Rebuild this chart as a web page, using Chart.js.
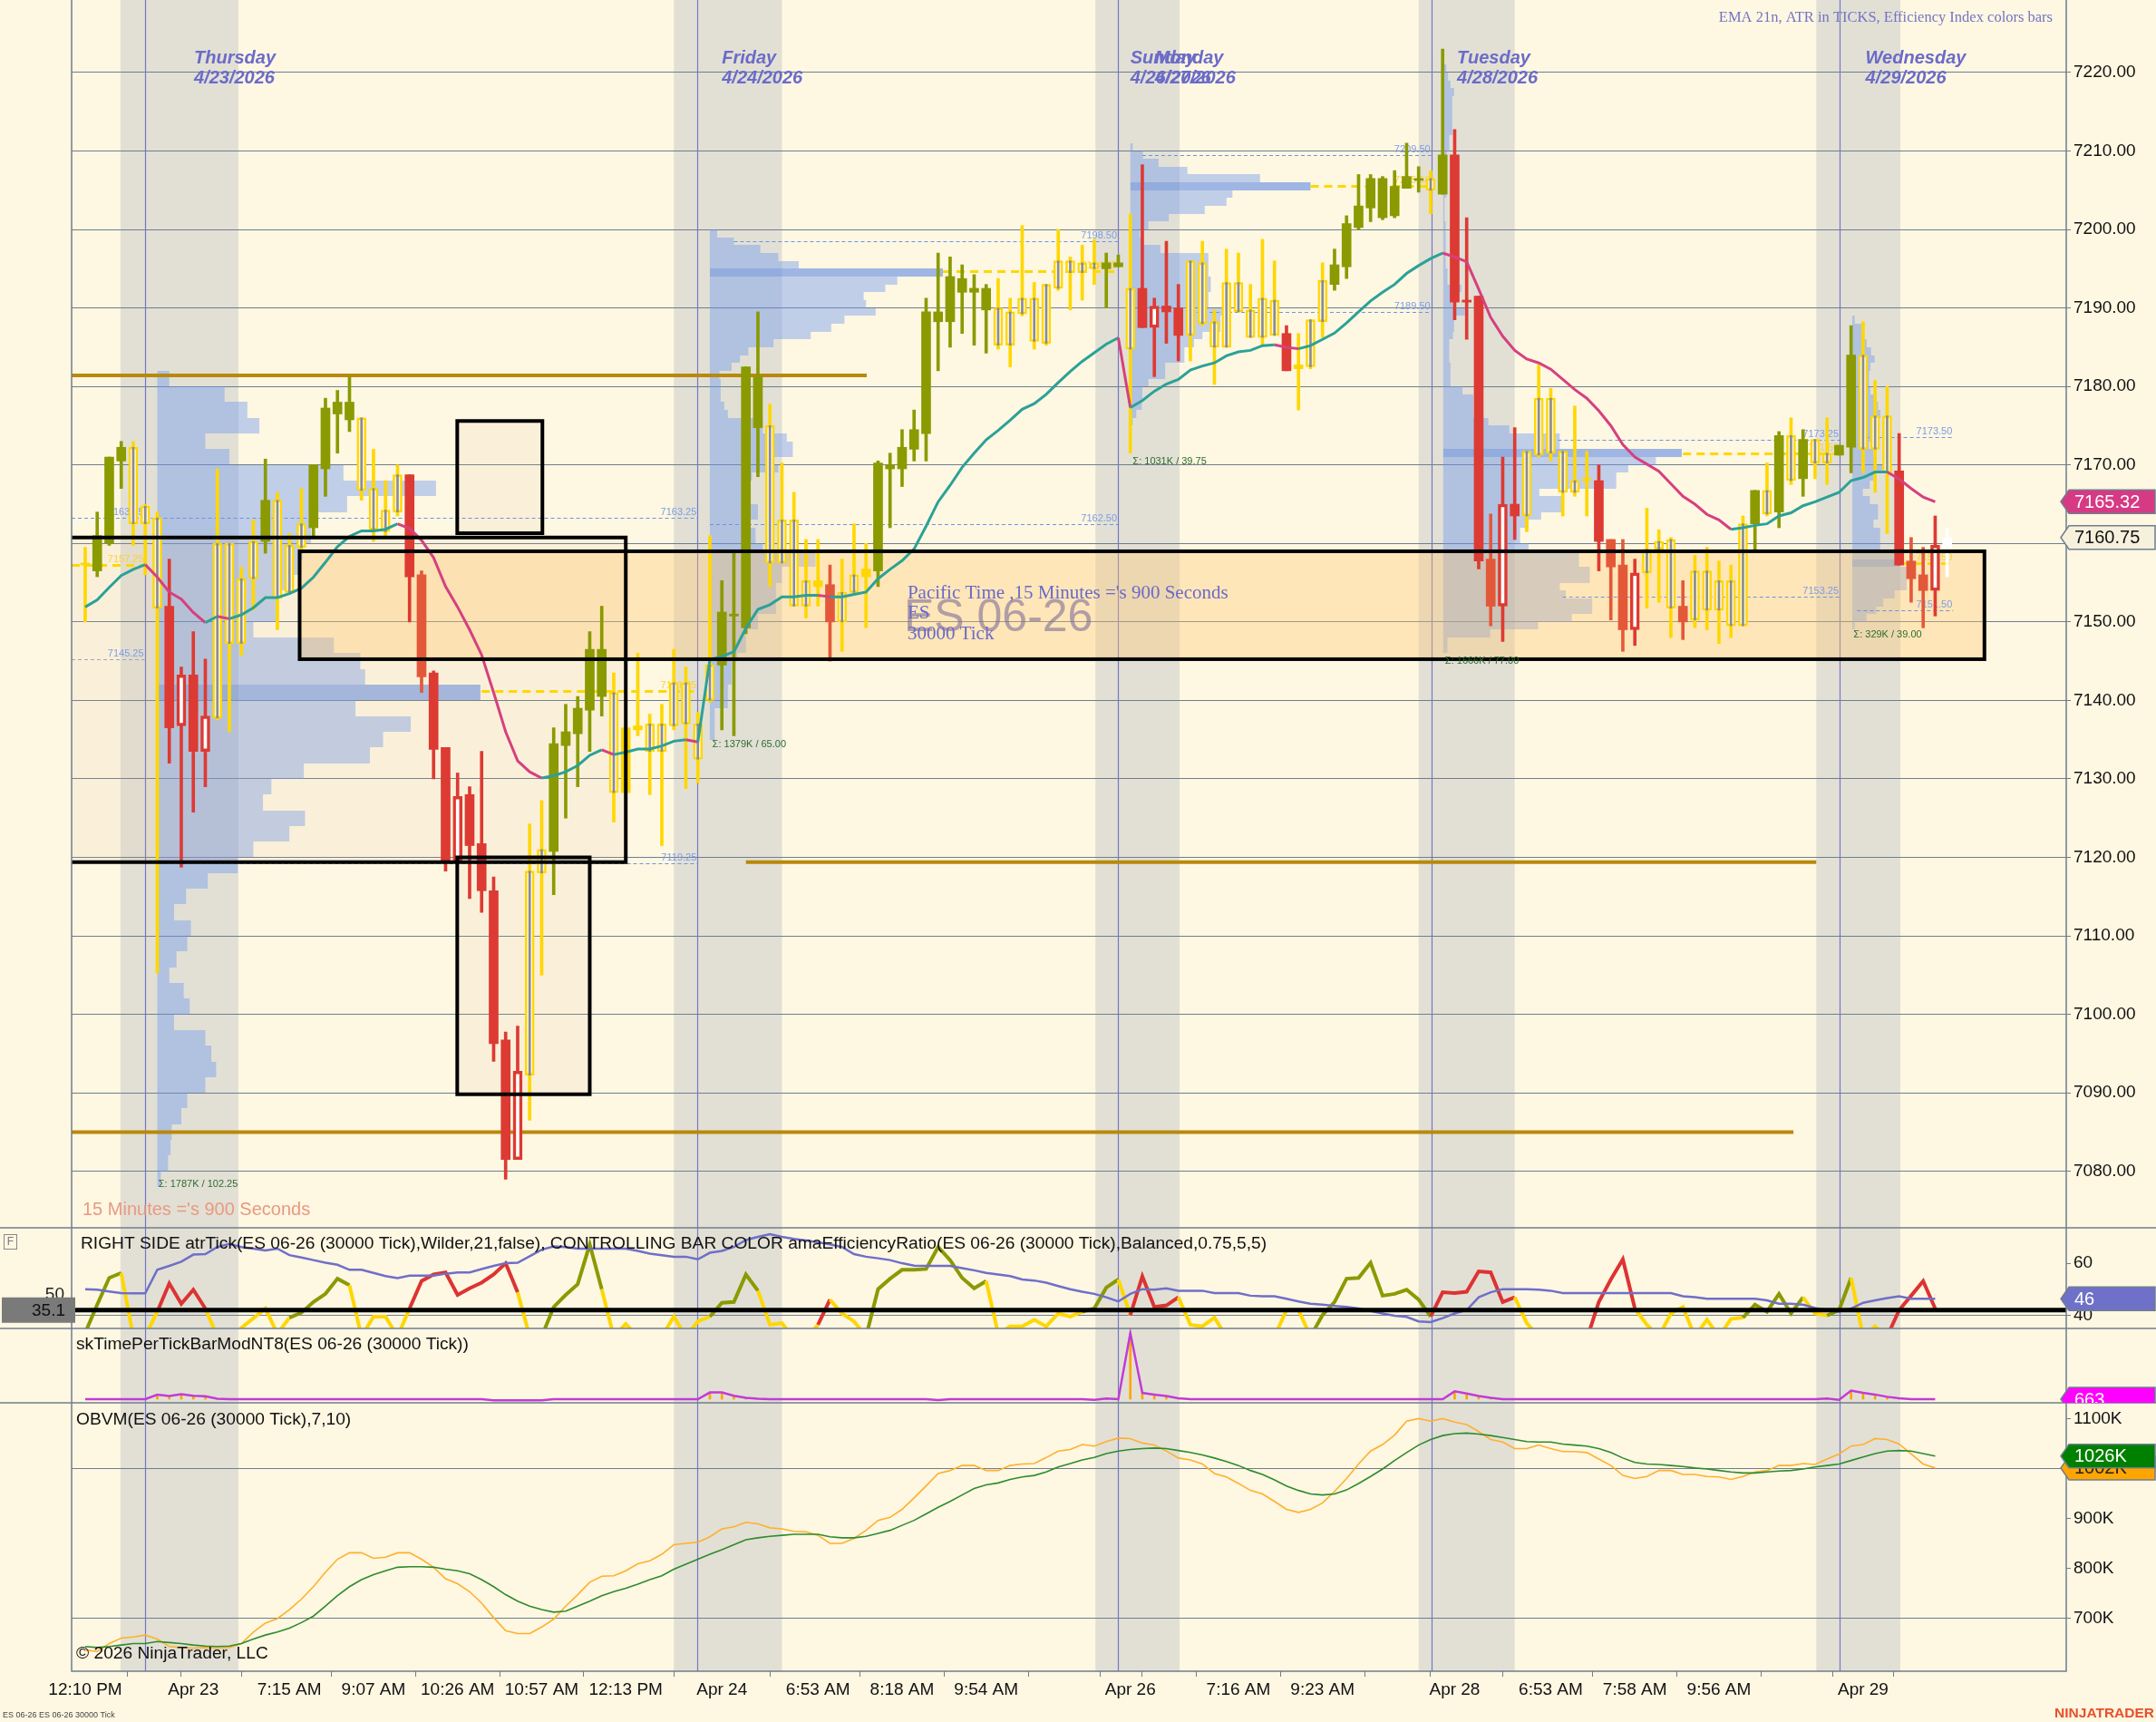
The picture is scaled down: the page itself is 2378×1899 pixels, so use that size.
<!DOCTYPE html>
<html>
<head>
<meta charset="utf-8">
<title>ES 06-26 30000 Tick</title>
<script src="https://cdn.jsdelivr.net/npm/chart.js@4.4.1/dist/chart.umd.min.js"></script>
<style>
  html, body { margin: 0; padding: 0; background: #FEF7E2; }
  canvas { display: block; }
</style>
</head>
<body>
<canvas id="chart" width="2378" height="1899"></canvas>
<script>
// ---- price bars (30000 tick) ----
const opens = [
  7157.25,7156.5,7160,7170.5,7172.25,7162.5,7163.25,7152,7136.75,7143.25,
  7133.5,7137.75,7160,7147.25,7155.5,7160.25,7165.5,7153.75,7159.5,7162,
  7169.5,7176.5,7178,7176,7167,7161.5,7164,7168.75,7156,7143.5,
  7134,7119.5,7128,7121.75,7115.75,7096.75,7081.5,7092.25,7118,7120.75,
  7134.25,7135.75,7138.75,7146.5,7141,7128.25,7136.75,7137,7133.5,7136.75,
  7142.25,7137,7140,7144.5,7151,7149.25,7181.25,7175,7157.5,7163,
  7152,7155.25,7154.75,7150,7153.75,7156.75,7156.5,7169.5,7169.5,7172,
  7174,7189.5,7188.25,7193.75,7192.5,7192.5,7190,7185.25,7189.25,7191.25,
  7185.5,7192.5,7196,7194.5,7195.75,7195,7195.25,7192.5,7187.5,7187.5,
  7190.25,7190,7186.5,7195.75,7188.25,7185,7193.25,7189.75,7186.25,7191,
  7186.75,7182.75,7182.5,7188.25,7193,7195.25,7200.25,7202.75,7206.5,7201.75,
  7205.25,7206.5,7206.5,7204.5,7209.5,7191,7191.5,7158,7152,7165,
  7163.5,7171.25,7178.5,7171.75,7166.5,7168,7168,7160.5,7157.25,7149,
  7156.25,7159.25,7160.5,7152,7150.25,7156.5,7151.5,7155.25,7149.5,7162.5,
  7166.75,7164,7173.75,7168.25,7173.25,7170.25,7171.25,7172.25,7184,7172,
  7176.25,7169.25,7157.75,7156,7154,7159.5
];
const highs = [
  7159.5,7164,7171,7173,7173,7165,7164,7158,7144.25,7148.75,
  7145.25,7169.5,7160,7157,7163,7170.75,7166.5,7161.25,7167,7170,
  7178.5,7179.5,7181.25,7176,7172,7168,7170,7168.75,7156.5,7143.75,
  7134,7130.75,7129,7133.5,7117.5,7097.75,7098.5,7124.25,7127.25,7136.5,
  7139.5,7140.5,7148.75,7152,7143.5,7136.5,7146,7138.25,7139.5,7146.5,
  7144.25,7138.5,7161,7155.25,7158.75,7182.5,7189.5,7177.75,7170.25,7166.5,
  7160.5,7160.5,7157.25,7158,7162.5,7160,7170.5,7171.5,7174.5,7177,
  7191.25,7197,7196.5,7195.5,7194.25,7193,7193.75,7191.25,7200.5,7193.25,
  7193,7200,7196.5,7198,7198.75,7197,7196.75,7202,7208.25,7191.25,
  7198.5,7193,7196,7198.5,7189.75,7197.5,7197,7193,7198.75,7196,
  7187.75,7186.75,7188.5,7195.75,7197.5,7201.75,7207,7207,7206.75,7207.5,
  7211,7208,7207.5,7223,7212.75,7201.5,7191.5,7163.75,7171,7174.75,
  7171.75,7182.75,7179.75,7171.75,7177.5,7171.75,7170,7160.5,7160.5,7158,
  7164.5,7161.75,7160.75,7155.25,7158.5,7159.5,7157.75,7157.25,7163.5,7166.75,
  7170.25,7174.25,7176,7174.5,7173.25,7176,7172.5,7187.75,7188.25,7180.75,
  7180,7174,7160.75,7159.5,7163.5,7162
];
const lows = [
  7150,7155.75,7159.75,7167,7159.75,7156,7105.25,7132,7118.75,7125.75,
  7129,7137.5,7136,7145.75,7151.5,7158.75,7149,7153.5,7159.25,7160.75,
  7166,7171.5,7174.25,7165.5,7160.25,7161,7163.5,7150,7141,7130,
  7118.25,7119.5,7114.75,7113,7094,7079,7081.5,7086.5,7105,7115.25,
  7125,7129,7133.5,7138,7124.5,7128.25,7135.5,7128,7121.5,7136.25,
  7128.75,7129.5,7139.75,7136.25,7135.5,7148.5,7168.5,7154.5,7157.5,7152,
  7150.5,7152,7145,7146.25,7153.5,7149.25,7154.5,7162,7167.25,7170.5,
  7170.5,7182,7185,7186.75,7185.25,7184.25,7184.75,7182.5,7189,7184.75,
  7185.25,7192.25,7189.75,7191,7193,7190,7195.25,7171.5,7187.5,7181.25,
  7185.5,7183.25,7183.25,7187.75,7180.25,7185,7189.5,7186.25,7185.25,7186.5,
  7182,7177,7182.25,7186.25,7192.25,7193.75,7200,7201,7201.25,7201.5,
  7205.25,7204.75,7202,7204.5,7188.5,7186,7156.75,7149.5,7147.5,7160.5,
  7161.5,7171,7170.5,7163.5,7166,7163.5,7156.5,7150.25,7146.25,7147,
  7151.75,7152.5,7148,7147.75,7149.25,7149,7147.25,7148,7149.5,7159.25,
  7163.5,7162,7167.5,7166,7168.25,7167.5,7171.25,7169,7169,7166.5,
  7161.25,7157.25,7152.5,7149.25,7150.75,7155.75
];
const closes = [
  7157.5,7161,7171,7172.25,7162.5,7164.75,7151.75,7136.5,7143.25,7133.5,
  7138,7160,7147.25,7155.5,7160.25,7165.5,7153,7159.75,7162.5,7170,
  7177.25,7178,7175.75,7166.75,7161.75,7164.25,7168.75,7155.75,7143,7133.75,
  7119.5,7127.75,7121.5,7115.75,7096.25,7081.5,7092.75,7118.25,7121,7134.5,
  7136,7139,7146.5,7140.5,7128.25,7136.5,7136.25,7133.5,7137,7142.25,
  7137,7132.5,7144.5,7151.25,7150.75,7182.5,7174.75,7157.5,7163,7152,
  7155.25,7154.5,7150,7153.75,7156,7155.75,7170.25,7170,7172.25,7174.5,
  7189.5,7188.25,7194,7192,7192,7189.75,7185.25,7189.5,7191.25,7185.75,
  7193,7196,7194.5,7195.75,7195,7195.75,7195.75,7184.75,7192.5,7190.25,
  7189.5,7186.5,7196,7188,7185,7193.25,7189.5,7186.25,7191.25,7186.5,
  7182,7182.25,7188.5,7193.5,7195.5,7200.75,7203,7206.5,7201.5,7205.5,
  7206.75,7206.25,7205,7209.5,7190.75,7190.75,7157.75,7152,7165,7163.5,
  7171.75,7178.5,7171.5,7166.5,7168,7168,7160.25,7157,7149,7156.25,
  7159.25,7160.25,7151.75,7150,7156.5,7151.5,7155.25,7149.5,7162.5,7166.75,
  7163.75,7173.75,7168,7173.25,7170.25,7171.5,7172.5,7184,7172,7176.25,
  7169,7157.25,7155.5,7154,7159.75,7160.75
];
// efficiency colour of each bar: G olive, Y gold, R red, O orange-red, W live bar; lower case = hollow body
const barColors =
  'YGGGyyyRrR' + 'ryyyyGyyyG' + 'GGGyyyyROR' + 'RrRRRRryyG' + 'GGGGyYYyyy' +
  'yyyGGGGyyy' + 'yYOyyYGGGG' + 'GGGGGGyyyy' + 'yyyyyGGyRr' + 'RRyyyyyyyy' +
  'RYyyGGGGGG' + 'GGyGRRROrR' + 'yyyyyYROOr' + 'yyyOyyyyyG' + 'yGyGyyGGyy' + 'yROOrW';

const ema21 = [
  7151.9,7152.8,7154.4,7155.9,7156.7,7157.3,7155.7,7153.8,7152.9,7151.2,
  7149.9,7150.7,7150.4,7150.9,7151.8,7153.1,7153.1,7153.6,7154.3,7155.7,
  7157.6,7159.6,7160.9,7161.6,7161.6,7161.8,7162.5,7161.9,7160.4,7158.2,
  7154.5,7151.9,7149.0,7145.8,7141.0,7136.0,7132.3,7130.9,7130.1,7130.4,
  7130.9,7131.7,7133.0,7133.7,7133.1,7133.4,7133.8,7133.8,7134.2,7134.8,
  7135.0,7134.7,7145.2,7145.6,7146.2,7149.2,7151.6,7152.2,7153.2,7153.2,
  7153.4,7153.4,7153.2,7153.2,7153.5,7153.8,7155.5,7156.7,7157.8,7159.3,
  7162.2,7165.3,7167.4,7169.7,7171.5,7173.2,7174.4,7175.7,7177.1,7177.8,
  7179.0,7180.5,7181.9,7183.2,7184.3,7185.4,7186.2,7177.3,7178.2,7179.4,
  7180.3,7180.9,7182.1,7182.6,7183.0,7183.9,7184.4,7184.6,7185.2,7185.3,
  7185.0,7184.8,7185.2,7186.0,7186.8,7188.1,7189.5,7190.9,7192.0,7193.0,
  7194.4,7195.4,7196.3,7197.0,7196.5,7195.9,7192.4,7188.8,7186.4,7184.6,
  7183.5,7183.0,7182.2,7180.9,7179.6,7178.5,7176.9,7175.0,7172.6,7171.0,
  7170.1,7169.2,7167.6,7166.0,7165.0,7163.7,7163.0,7161.8,7162.0,7162.3,
  7162.5,7163.5,7163.9,7164.8,7165.3,7165.9,7166.5,7168.0,7168.4,7169.1,
  7169.1,7168.2,7167.0,7165.9,7165.3,null
];
const lastEma = 7165.32;

// ---- indicator panels ----
const atrTicks = [
  50.1,49.9,49.2,48.6,48.5,48.5,57.5,59.0,60.6,63.3,
  63.5,66.2,67.4,66.2,65.6,64.9,65.6,63.1,62.2,61.2,
  60.2,59.4,57.5,57.5,56.3,55.1,54.3,55.3,55.3,55.3,
  56.0,56.5,56.5,57.8,59.0,60.0,60.2,62.7,65.2,66.4,
  66.2,65.6,65.6,65.6,65.6,65.6,64.7,63.7,63.1,62.5,
  62.5,61.5,64.0,64.7,66.2,68.9,70.1,71.1,70.1,69.3,
  68.7,68.0,67.2,66.2,63.5,62.5,61.9,61.2,60.0,59.1,
  59.0,59.0,59.0,58.1,57.3,56.3,55.7,55.1,53.8,53.4,
  52.6,51.3,50.1,49.1,48.3,47.0,45.4,48.3,50.1,49.9,
  50.4,49.5,49.5,49.5,48.6,48.6,48.6,47.6,47.4,47.4,
  46.4,45.4,44.5,44.2,43.7,43.3,42.7,41.7,40.8,39.9,
  39.5,37.8,37.5,39.0,40.8,42.1,47.0,48.9,50.1,50.1,
  50.1,49.9,49.5,48.6,48.6,48.6,48.6,48.6,48.6,48.6,
  48.6,48.6,48.6,47.4,47.0,46.4,46.4,46.4,46.4,46.4,
  45.8,44.5,44.5,44.2,42.9,42.1,41.5,42.7,44.9,45.8,
  46.7,47.4,46.4,46.4,46.4
];
const effRatio = [
  33.4,44.2,54.4,56.3,32,32,41.5,52.3,44.5,49.9,
  42.7,32,30,35.3,39.0,42.7,33,39.2,41.1,45.2,
  48.3,54.1,51.6,32,39.6,39.6,32,42.7,53.2,55.7,
  56.5,47.9,50.4,52.6,55.7,60.0,48.9,32,32,43.3,
  47.9,52.0,67.2,50.1,32,36.8,32,31,32,39.6,
  32,37.8,39.6,44.9,45.2,55.7,49.5,36.5,37.1,31,
  31,36.5,46.1,40.8,37.8,32,50.1,54.1,57.5,57.5,
  57.8,66.2,61.2,54.4,50.4,53.2,33,35.9,35.9,38.4,
  35.9,40.8,39.6,41.5,42.7,50.7,53.8,40.2,55.0,43.3,
  43.9,47.0,36.5,35.9,39.2,32,32,34.5,32,32,
  42.1,42.1,32,40.2,45.2,54.1,54.4,60.2,47.6,48.3,
  49.9,46.1,39.6,48.9,48.6,49.1,56.9,56.5,45.2,47.0,
  37.1,32,31,31,31,31,45.2,53.8,61.5,42.7,
  36.5,32,40.8,43.3,32,38.4,32,38.7,39.2,44.2,
  41.5,48.3,40.8,47.0,40.8,40.0,42.1,54.4,32,35.9,
  32,42.1,47.6,53.2,42.7
];
const effColors =
  'GGGGYYYRRR' + 'RYYYYYYYGG' + 'GGGYYYYYRR' + 'RRRRRRRYYG' + 'GGGGYYYYYY' +
  'YYYGGGGYYY' + 'YYRYYYGGGG' + 'GGGGGGYYYY' + 'YYYYGGGYRR' + 'RRYYYYYYYY' +
  'YYYGGGGGGG' + 'GGGRRRRRRR' + 'YYYYYYRRRR' + 'YYYYYYYYYG' + 'GGGGYYGGYY' + 'YRRRR';
const effLevel = 42.1;
const effLevelLeft = '35.1';

const timePerTick = [
  663,663,663,663,663,663,1490,1250,1575,1300,
  1200,750,663,663,663,663,663,663,663,663,
  663,663,663,663,663,663,663,663,663,663,
  663,663,663,663,450,450,450,450,450,663,
  663,663,663,663,663,663,663,663,663,663,
  663,663,1900,1900,1300,900,750,663,663,663,
  663,663,663,663,663,663,663,663,663,663,
  663,500,663,663,663,663,663,663,663,663,
  663,663,663,663,550,800,663,12750,1820,1510,
  1230,830,663,663,663,663,663,663,663,663,
  663,663,663,663,663,663,663,663,663,663,
  663,663,663,663,2100,1690,1230,930,663,663,
  663,663,663,663,663,663,663,663,663,663,
  663,663,663,663,663,663,663,663,663,663,
  663,663,663,663,663,800,550,2220,1820,1510,
  1100,830,663,663,663
];
const tptBase = 663;

const obvFast = [
  637,634,650,661,663,667,659,644,642,641,
  642,641,642,650,673,691,700,718,739,764,
  793,819,832,832,821,823,832,832,819,803,
  780,770,754,731,702,676,670,670,683,699,
  725,748,773,785,786,796,810,816,829,848,
  851,853,864,880,884,893,890,882,880,875,
  874,867,851,851,861,877,897,903,919,942,
  966,991,997,1007,1007,997,997,1007,1010,1011,
  1023,1036,1039,1049,1046,1055,1062,1061,1052,1048,
  1036,1022,1018,1010,991,984,971,957,950,935,
  919,913,919,932,955,981,1010,1036,1049,1068,
  1096,1101,1096,1101,1094,1089,1075,1059,1054,1041,
  1041,1048,1041,1035,1035,1033,1020,1007,987,981,
  985,997,997,989,989,985,984,979,985,994,
  997,1007,1007,1011,1009,1020,1030,1046,1049,1061,
  1059,1050,1030,1010,1002
];
const obvSignal = [
  644,642,644,647,650,650,654,652,650,647,
  645,644,645,650,659,667,673,681,692,705,
  725,746,764,778,788,796,803,804,804,803,
  799,796,790,778,764,748,735,725,718,713,
  715,725,735,746,754,761,769,778,786,799,
  809,819,829,838,848,858,862,865,867,869,
  869,869,864,862,862,865,871,877,887,897,
  910,923,935,948,961,968,972,979,984,987,
  994,1004,1011,1018,1023,1031,1036,1039,1041,1042,
  1041,1037,1033,1028,1022,1015,1007,997,989,978,
  966,957,950,948,950,958,971,985,1000,1017,
  1033,1048,1059,1067,1071,1072,1070,1067,1063,1059,
  1055,1054,1054,1050,1048,1046,1041,1033,1022,1013,
  1010,1009,1007,1005,1002,1000,997,994,992,992,
  994,996,997,1000,1004,1007,1010,1017,1024,1031,
  1036,1037,1036,1031,1026
];

// ---- axes ----
const tickBars = [0,7,9,17,24,31,38,45,53,61,68,75,82,87,89,96,103,110,114,122,129,136,143,148];
const tickTexts = ['12:10 PM','','Apr 23','7:15 AM','9:07 AM','10:26 AM','10:57 AM','12:13 PM','Apr 24',
  '6:53 AM','8:18 AM','9:54 AM','','Apr 26','','7:16 AM','9:23 AM','','Apr 28','6:53 AM','7:58 AM','9:56 AM','','Apr 29'];
const priceTicks = [7080,7090,7100,7110,7120,7130,7140,7150,7160,7170,7180,7190,7200,7210,7220];
const atrTickVals = [40,60];
const obvTickVals = [700,800,900,1000,1100];

// ---- sessions ----
const sessionBreaks = [4.95, 50.97, 85.97, 112.05, 146.05];
const sessionBands = [[2.94,12.75],[49.0,58.0],[84.1,91.1],[111.0,119.0],[144.1,151.1]];
const dayNames = ['Thursday','Friday','Sunday','Monday','Tuesday','Wednesday'];
const dayDates = ['4/23/2026','4/24/2026','4/26/2026','4/27/2026','4/28/2026','4/29/2026'];
const dayBars = [9.06, 53.0, 87.0, 89.05, 114.2, 148.2];

// ---- volume profiles (width in bars per price row) ----
const profileStart = [6.0, 52.0, 87.0, 113.05, 147.1];
const profileTop = [7182, 7200, 7211, 7221, 7189];
const profileStep = [2, 1, 1, 1, 1];
const profilePoc = [20, 5, 5, 49, 31];
const profileThu = [1.0,5.6,7.5,8.5,4.0,6.0,15.5,23.2,15.8,13.0, 12.8,12.1,12.0,11.0,10.0,10.0,8.0,14.7,16.9,17.3,
  26.9,16.5,21.1,18.8,17.7,12.2,9.5,8.8,12.3,11.0, 8.0,6.7,4.2,2.4,1.4,2.8,2.5,1.6,1.0,2.2,
  2.7,1.4,4.0,4.5,4.9,4.0,2.5,2.0,1.2,1.1, 0.9,0.3];
const profileFri = [0.6,2.0,4.2,5.7,7.4,19.4,15.6,14.6,12.8,13.0, 13.8,11.2,10.1,8.4,5.3,3.2,2.5,1.8,0.8,0.9,
  0.9,0.9,1.2,1.5,4.4,4.4,6.4,6.9,6.9,5.0, 5.7,3.5,3.2,3.2,3.0,4.0,4.0,3.0,3.8,3.8,
  4.4,8.8,8.8,6.0,6.0,5.5,5.5,5.5,5.5,4.0, 4.0,3.0,3.0,3.0,2.3,1.8,1.8,1.8,1.5,1.5, 1.5,0.4,0.4,0.4,0.4];
const profileMon = [0.2,1.05,2.35,4.75,10.8,15.0,8.5,8.0,6.2,3.2, 1.5,0.8,1.0,2.5,6.5,6.5,6.5,6.7,6.7,6.5,
  6.5,7.7,7.5,7.5,6.0,5.3,4.5,4.5,2.9,2.9, 1.5,1.0,1.0,0.95,0.5,0.2];
const profileTue = [0.25,0.4,0.6,0.9,0.75,0.75,0.75,0.75,0.75,0.5, 0.5,0.3,0.25,0.25,0.25,0.25,0.25,0.1,0.1,0.1,
  0.2,0.2,0.2,0.2,0.2,0.2,0.35,0.35,1.5,0.8, 0.8,1.8,0.9,0.9,0.8,0.5,0.5,0.5,0.6,0.6,
  0.6,1.6,2.5,2.5,2.5,3.75,5.5,9.7,9.7,19.85, 17.7,15.4,14.4,14.4,8.0,9.9,9.9,8.15,7.1,6.4,
  6.4,7.1,11.3,11.3,12.2,12.2,9.7,10.2,12.4,12.4, 10.7,7.9,3.9,0.35,0.35];
const profileWed = [0.2,0.76,0.76,1.2,1.56,1.86,1.51,1.39,1.39,1.5, 2.0,2.14,2.34,2.14,2.14,1.76,1.39,1.76,2.0,2.5,
  1.76,1.46,0.88,1.46,2.14,2.14,1.76,2.32,2.32,2.32, 3.65,3.97,4.53,4.53,4.53,3.53,2.57,2.0,1.18,0.2];
const profiles = [profileThu, profileFri, profileMon, profileTue, profileWed];

// value-area / POC levels of the profiles
const levelPrice = [7163.25,7157.25,7145.25,7141.25,7119.25,7198.5,7162.5,7194.75,7209.5,7189.5,7205.5,
  7173.25,7153.25,7171.5,7173.5,7151.5,7157.5,7163.25];
const levelFrom = [4.95,-1.13,-1.13,33,6,54,52,71.4,88,92,102,122.6,123,133,148.2,147.5,151.1,-1.13];
const levelTo = [50.97,4.95,4.95,50.97,50.97,85.97,85.97,85.97,112.05,112.05,112.05,146.05,146.05,146.05,155.5,155.5,155.5,4.95];
const levelKind = 'bgngbbbgbbgbbgbbgb';
const volTextBar = [6.1, 52.2, 87.2, 113.2, 147.2];
const volTextPrice = [7078.3, 7134.4, 7170.4, 7145.0, 7148.4];
const volText = ['\u03A3: 1787K / 102.25','\u03A3: 1379K / 65.00','\u03A3: 1031K / 39.75','\u03A3: 1666K / 77.00','\u03A3: 329K / 39.00'];

// ---- drawn objects ----
const boxLeft = [-1.13, 30.97, 30.97];
const boxRight = [45.0, 38.06, 42.0];
const boxTop = [7160.75, 7175.6, 7120.0];
const boxBottom = [7119.4, 7161.3, 7089.8];
const zoneBars = [17.85, 158.1];
const zonePrices = [7145.25, 7159.0];
const goldLevel = [7181.4, 7119.4, 7085.0];
const goldFrom = [-1.13, 55.0, -1.13];
const goldTo = [65.06, 144.1, 142.2];

// ---- styling ----
const CREAM = '#FEF7E2';
const GRID = '#6F7E8D';
const CANDLE = { G: '#8A9A00', Y: '#FFD700', R: '#DD3A33', O: '#E4583A', W: '#FFFFFF' };
const ER_COL = { G: '#8A9A00', Y: '#FFD700', R: '#DD3333' };
const TEAL = '#2BA197', PINK = '#D6407F';
const SANS = '"Liberation Sans", Arial, sans-serif';
const SERIF = '"Liberation Serif", "Times New Roman", serif';
Chart.defaults.font.family = SANS;

const X_MIN = -1.13, X_MAX = 164.91;

function colorOf(i) { return CANDLE[barColors[i].toUpperCase()]; }
function isHollow(i) { const c = barColors[i]; return c === 'y' || c === 'r'; }

const bodyData = opens.map((o, i) => ({ x: i, y: [o, closes[i]] }));
const wickData = opens.map((o, i) => ({ x: i, y: [lows[i], highs[i]] }));
const coreData = opens.map((o, i) => ({ x: i, y: [Math.min(o, closes[i]), Math.max(o, closes[i])] }))
  .filter(d => barColors[d.x] === 'y' && d.y[1] - d.y[0] > 0.6);
const xy = arr => arr.map((v, i) => ({ x: i, y: v }));

// clip each dataset to its own panel
const panelClip = {
  id: 'panelClip',
  beforeDatasetDraw(chart, args) {
    const ys = args.meta.yScale, a = chart.chartArea, ctx = chart.ctx;
    ctx.save();
    ctx.beginPath();
    ctx.rect(a.left, ys.top, a.right - a.left, ys.bottom - ys.top);
    ctx.clip();
  },
  afterDatasetDraw(chart) { chart.ctx.restore(); }
};

function tag(ctx, y, text, fill, color) {
  const x0 = 2273, x1 = 2377, h = 26;
  ctx.beginPath();
  ctx.moveTo(x0, y);
  ctx.lineTo(x0 + 9, y - h / 2);
  ctx.lineTo(x1, y - h / 2);
  ctx.lineTo(x1, y + h / 2);
  ctx.lineTo(x0 + 9, y + h / 2);
  ctx.closePath();
  ctx.fillStyle = fill;
  ctx.fill();
  ctx.strokeStyle = GRID;
  ctx.lineWidth = 1.5;
  ctx.stroke();
  ctx.fillStyle = color;
  ctx.font = '20px ' + SANS;
  ctx.textAlign = 'left';
  ctx.textBaseline = 'middle';
  ctx.fillText(text, x0 + 15, y + 1);
}

const overlay = {
  id: 'overlay',
  beforeDraw(chart) {
    const { ctx, chartArea: a, scales } = chart;
    ctx.save();
    ctx.fillStyle = CREAM;
    ctx.fillRect(0, 0, chart.width, chart.height);
    ctx.fillStyle = 'rgba(140,150,170,0.24)';
    sessionBands.forEach(b => {
      const x0 = scales.x.getPixelForValue(b[0]), x1 = scales.x.getPixelForValue(b[1]);
      ctx.fillRect(x0, a.top, x1 - x0, a.bottom - a.top);
    });
    ctx.restore();
  },
  beforeDatasetsDraw(chart) {
    const { ctx, chartArea: a, scales } = chart;
    const xs = scales.x, yp = scales.yPrice;
    ctx.save();
    ctx.strokeStyle = '#7676C6';
    ctx.lineWidth = 1.2;
    sessionBreaks.forEach(b => {
      const x = Math.round(xs.getPixelForValue(b)) + 0.5;
      ctx.beginPath(); ctx.moveTo(x, a.top); ctx.lineTo(x, a.bottom); ctx.stroke();
    });
    ctx.beginPath();
    ctx.rect(a.left, yp.top, a.right - a.left, yp.bottom - yp.top);
    ctx.clip();

    // volume profiles
    profiles.forEach((rows, k) => {
      const x0 = xs.getPixelForValue(profileStart[k]);
      rows.forEach((w, r) => {
        const top = profileTop[k] - r * profileStep[k];
        const y0 = Math.round(yp.getPixelForValue(top));
        const y1 = Math.round(yp.getPixelForValue(top - profileStep[k]));
        const x1 = xs.getPixelForValue(profileStart[k] + w);
        ctx.fillStyle = r === profilePoc[k] ? 'rgba(80,130,230,0.55)' : 'rgba(110,150,240,0.42)';
        ctx.fillRect(x0, y0, x1 - x0, y1 - y0);
      });
    });

    // faint fills of the boxes, then the zone
    ctx.fillStyle = 'rgba(215,190,140,0.10)';
    boxLeft.forEach((l, k) => {
      const x0 = xs.getPixelForValue(l), x1 = xs.getPixelForValue(boxRight[k]);
      const y0 = yp.getPixelForValue(boxTop[k]), y1 = yp.getPixelForValue(boxBottom[k]);
      ctx.fillRect(x0, y0, x1 - x0, y1 - y0);
    });
    {
      const x0 = xs.getPixelForValue(zoneBars[0]), x1 = xs.getPixelForValue(zoneBars[1]);
      const y0 = yp.getPixelForValue(zonePrices[1]), y1 = yp.getPixelForValue(zonePrices[0]);
      ctx.fillStyle = 'rgba(255,200,110,0.36)';
      ctx.fillRect(x0, y0, x1 - x0, y1 - y0);
    }

    // gold horizontal lines
    ctx.strokeStyle = '#B8890B';
    ctx.lineWidth = 4;
    goldLevel.forEach((p, k) => {
      const y = yp.getPixelForValue(p);
      ctx.beginPath();
      ctx.moveTo(xs.getPixelForValue(goldFrom[k]), y);
      ctx.lineTo(xs.getPixelForValue(goldTo[k]), y);
      ctx.stroke();
    });

    // profile levels
    levelPrice.forEach((p, k) => {
      const kind = levelKind[k];
      const y = Math.round(yp.getPixelForValue(p)) + 0.5;
      const x0 = xs.getPixelForValue(levelFrom[k]), x1 = xs.getPixelForValue(levelTo[k]);
      if (kind === 'g') { ctx.strokeStyle = '#FFD700'; ctx.lineWidth = 3; ctx.setLineDash([9, 6]); }
      else if (kind === 'b') { ctx.strokeStyle = '#6F93E0'; ctx.lineWidth = 1; ctx.setLineDash([4, 3]); }
      else { ctx.strokeStyle = '#A0A6B4'; ctx.lineWidth = 1; ctx.setLineDash([4, 3]); }
      ctx.beginPath(); ctx.moveTo(x0, y); ctx.lineTo(x1, y); ctx.stroke();
      ctx.setLineDash([]);
      ctx.font = '11px ' + SANS;
      ctx.textAlign = 'right';
      ctx.textBaseline = 'bottom';
      ctx.fillStyle = kind === 'g' ? '#F8D23A' : '#7C9CE8';
      ctx.fillText(p.toFixed(2), x1 - 1, y - 1);
    });
    ctx.restore();
  },
  afterDatasetsDraw(chart) {
    const { ctx, chartArea: a, scales } = chart;
    const xs = scales.x, yp = scales.yPrice;
    ctx.save();

    // boxes and zone borders
    ctx.strokeStyle = '#000';
    ctx.lineWidth = 4;
    boxLeft.forEach((l, k) => {
      const x0 = xs.getPixelForValue(l), x1 = xs.getPixelForValue(boxRight[k]);
      const y0 = yp.getPixelForValue(boxTop[k]), y1 = yp.getPixelForValue(boxBottom[k]);
      ctx.beginPath();
      if (l <= X_MIN) { ctx.moveTo(a.left, y0); ctx.lineTo(x1, y0); ctx.lineTo(x1, y1); ctx.lineTo(a.left, y1); }
      else ctx.rect(x0, y0, x1 - x0, y1 - y0);
      ctx.stroke();
    });
    {
      const x0 = xs.getPixelForValue(zoneBars[0]), x1 = xs.getPixelForValue(zoneBars[1]);
      const y0 = yp.getPixelForValue(zonePrices[1]), y1 = yp.getPixelForValue(zonePrices[0]);
      ctx.strokeRect(x0, y0, x1 - x0, y1 - y0);
    }

    // profile totals
    ctx.font = '11px ' + SANS;
    ctx.fillStyle = '#2F6B2F';
    ctx.textAlign = 'left';
    ctx.textBaseline = 'middle';
    volText.forEach((t, k) => ctx.fillText(t, xs.getPixelForValue(volTextBar[k]), yp.getPixelForValue(volTextPrice[k])));

    // day labels
    ctx.font = 'italic bold 20px ' + SANS;
    ctx.fillStyle = '#6B6BC8';
    ctx.textBaseline = 'alphabetic';
    dayNames.forEach((d, k) => {
      const x = xs.getPixelForValue(dayBars[k]);
      ctx.fillText(d, x, 70);
      ctx.fillText(dayDates[k], x, 92);
    });

    // chart notes
    ctx.font = '16.5px ' + SERIF;
    ctx.fillStyle = '#7474C4';
    ctx.textAlign = 'right';
    ctx.fillText('EMA 21n, ATR in TICKS, Efficiency Index colors bars', 2264, 24);

    const cx = xs.getPixelForValue(68.45);
    ctx.textAlign = 'left';
    ctx.font = '50px ' + SANS;
    ctx.fillStyle = 'rgba(120,105,150,0.58)';
    ctx.fillText('ES 06-26', cx - 4, 696);
    ctx.font = '21px ' + SERIF;
    ctx.fillStyle = '#6A6AC8';
    ctx.fillText("Pacific Time ,15 Minutes ='s 900 Seconds", cx, 660);
    ctx.fillText('ES', cx, 682);
    ctx.fillText('30000 Tick', cx, 705);

    ctx.font = '20px ' + SANS;
    ctx.fillStyle = '#E89A80';
    ctx.fillText("15 Minutes ='s 900 Seconds", 91, 1340);

    // panel separators and frame
    const ya = scales.yAtr, yt = scales.yTpt, yo = scales.yObv;
    ctx.strokeStyle = GRID;
    ctx.lineWidth = 1.5;
    [ya.top, yt.top, yo.top].forEach(y => {
      ctx.beginPath(); ctx.moveTo(0, y); ctx.lineTo(chart.width, y); ctx.stroke();
    });
    ctx.beginPath();
    ctx.moveTo(a.left, a.top); ctx.lineTo(a.left, a.bottom); ctx.lineTo(a.right, a.bottom); ctx.lineTo(a.right, a.top);
    ctx.stroke();

    // panel titles
    ctx.font = '19.2px ' + SANS;
    ctx.fillStyle = '#111';
    ctx.textAlign = 'left';
    ctx.textBaseline = 'middle';
    ctx.fillText('RIGHT SIDE atrTick(ES 06-26 (30000 Tick),Wilder,21,false), CONTROLLING BAR COLOR amaEfficiencyRatio(ES 06-26 (30000 Tick),Balanced,0.75,5,5)', 89, ya.top + 18);
    ctx.fillText('skTimePerTickBarModNT8(ES 06-26 (30000 Tick))', 84, yt.top + 18);
    ctx.fillText('OBVM(ES 06-26 (30000 Tick),7,10)', 84, yo.top + 19);
    ctx.fillText('\u00A9 2026 NinjaTrader, LLC', 84, a.bottom - 19);

    // left side of the ATR panel
    ctx.strokeStyle = '#888';
    ctx.lineWidth = 1;
    ctx.strokeRect(4.5, ya.top + 7.5, 14, 16);
    ctx.font = '12px ' + SANS;
    ctx.fillStyle = '#777';
    ctx.textAlign = 'center';
    ctx.fillText('F', 11.5, ya.top + 16);
    ctx.font = '19px ' + SANS;
    ctx.fillStyle = '#222';
    ctx.textAlign = 'right';
    const yLvl = ya.getPixelForValue(effLevel);
    ctx.fillText('50', 71, yLvl - 17);
    ctx.fillStyle = '#7A7A7A';
    ctx.fillRect(2, yLvl - 14, 81, 28);
    ctx.fillStyle = '#111';
    ctx.fillText(effLevelLeft, 72, yLvl + 1);

    // right side price tags
    tag(ctx, yp.getPixelForValue(lastEma), lastEma.toFixed(2), '#D63A84', '#fff');
    tag(ctx, yp.getPixelForValue(closes[closes.length - 1]), closes[closes.length - 1].toFixed(2), '#F6F1DD', '#111');
    const lastAtr = atrTicks[atrTicks.length - 1];
    tag(ctx, ya.getPixelForValue(lastAtr), String(Math.round(lastAtr)), '#6F70C8', '#fff');
    ctx.save();
    ctx.beginPath();
    ctx.rect(a.right - 10, yt.top, chart.width, yt.bottom - yt.top);
    ctx.clip();
    tag(ctx, yt.getPixelForValue(timePerTick[timePerTick.length - 1]), String(timePerTick[timePerTick.length - 1]), '#FF00FF', '#fff');
    ctx.restore();
    tag(ctx, yo.getPixelForValue(obvFast[obvFast.length - 1]), obvFast[obvFast.length - 1] + 'K', '#FFA500', '#222');
    tag(ctx, yo.getPixelForValue(obvSignal[obvSignal.length - 1]), obvSignal[obvSignal.length - 1] + 'K', '#008000', '#fff');

    // footer
    ctx.font = '9px ' + SANS;
    ctx.fillStyle = '#444';
    ctx.textAlign = 'left';
    ctx.textBaseline = 'alphabetic';
    ctx.fillText('ES 06-26 ES 06-26 30000 Tick', 3, 1894);
    ctx.font = 'bold 15.5px ' + SANS;
    ctx.fillStyle = '#E8502A';
    ctx.textAlign = 'right';
    ctx.fillText('NINJATRADER', 2376, 1894);
    ctx.restore();
  }
};

function yAxis(weight, min, max, extra) {
  return Object.assign({
    type: 'linear', position: 'right', stack: 'panels', stackWeight: weight,
    min: min, max: max, offset: false,
    border: { display: false },
    afterFit: s => { s.width = 99; s.paddingTop = 0; s.paddingBottom = 0; }
  }, extra);
}

new Chart(document.getElementById('chart'), {
  type: 'line',
  data: {
    datasets: [
      { type: 'line', label: 'EMA 21', data: xy(ema21), yAxisID: 'yPrice', order: 0,
        borderWidth: 3, pointRadius: 0, borderColor: TEAL,
        segment: { borderColor: c => (c.p1.parsed.y >= c.p0.parsed.y ? TEAL : PINK) } },
      { type: 'bar', label: 'core', data: coreData, yAxisID: 'yPrice', order: 1, grouped: false,
        barThickness: 2, backgroundColor: '#8C8C8C', borderWidth: 0 },
      { type: 'bar', label: 'body', data: bodyData, yAxisID: 'yPrice', order: 2, grouped: false,
        barThickness: 10, minBarLength: 2, borderSkipped: false,
        backgroundColor: c => (isHollow(c.dataIndex) ? (barColors[c.dataIndex] === 'r' ? '#FFFFFF' : CREAM) : colorOf(c.dataIndex)),
        borderColor: c => colorOf(c.dataIndex),
        borderWidth: c => (isHollow(c.dataIndex) ? (barColors[c.dataIndex] === 'r' ? 3.5 : 2.5) : 0) },
      { type: 'bar', label: 'wick', data: wickData, yAxisID: 'yPrice', order: 3, grouped: false,
        barThickness: 3, backgroundColor: c => colorOf(c.dataIndex), borderWidth: 0 },

      { type: 'line', label: 'ER level', data: [{ x: X_MIN, y: effLevel }, { x: X_MAX, y: effLevel }], yAxisID: 'yAtr',
        order: 0, borderColor: '#000', borderWidth: 5, pointRadius: 0 },
      { type: 'line', label: 'atrTick', data: xy(atrTicks), yAxisID: 'yAtr', order: 1,
        borderColor: '#6F6FC8', borderWidth: 2.5, pointRadius: 0 },
      { type: 'line', label: 'amaEfficiencyRatio', data: xy(effRatio), yAxisID: 'yAtr', order: 2,
        borderWidth: 4, pointRadius: 0, borderColor: ER_COL.Y,
        segment: { borderColor: c => ER_COL[effColors[c.p1DataIndex]] } },

      { type: 'line', label: 'time per tick', data: xy(timePerTick), yAxisID: 'yTpt', order: 0,
        borderColor: '#C23BD6', borderWidth: 2.5, pointRadius: 0 },
      { type: 'bar', label: 'tpt hist', yAxisID: 'yTpt', order: 1, grouped: false,
        data: timePerTick.map((v, i) => ({ x: i, y: [tptBase, v] })).filter(d => d.y[1] > 700),
        barThickness: 2, backgroundColor: '#FFA500', borderWidth: 0 },

      { type: 'line', label: 'OBVM', data: xy(obvFast), yAxisID: 'yObv', order: 1,
        borderColor: '#FFB02E', borderWidth: 1.6, pointRadius: 0 },
      { type: 'line', label: 'OBVM signal', data: xy(obvSignal), yAxisID: 'yObv', order: 0,
        borderColor: '#2E8B2E', borderWidth: 1.6, pointRadius: 0 }
    ]
  },
  options: {
    responsive: false,
    animation: false,
    devicePixelRatio: 1,
    events: [],
    layout: { padding: { left: 79, right: 0, top: 0, bottom: 0 }, autoPadding: false },
    plugins: { legend: { display: false }, tooltip: { enabled: false } },
    scales: {
      x: {
        type: 'linear', position: 'bottom', min: X_MIN, max: X_MAX, offset: false,
        border: { display: false },
        grid: { drawOnChartArea: false, drawTicks: true, tickLength: 6, color: GRID },
        afterBuildTicks: s => { s.ticks = tickBars.map(v => ({ value: v })); },
        afterFit: s => { s.height = 56; s.paddingLeft = 0; s.paddingRight = 0; },
        ticks: {
          autoSkip: false, maxRotation: 0, minRotation: 0, padding: 3, color: '#111',
          font: { size: 19 },
          callback: v => { const k = tickBars.indexOf(v); return k < 0 ? '' : tickTexts[k]; }
        }
      },
      yPrice: yAxis(1354, 7072.8, 7229.24, {
        grid: { color: GRID, lineWidth: 1, drawTicks: true, tickLength: 5 },
        afterBuildTicks: s => { s.ticks = priceTicks.map(v => ({ value: v })); },
        ticks: { padding: 3, color: '#111', font: { size: 19 }, callback: v => v.toFixed(2) }
      }),
      yAtr: yAxis(111, 35.08, 73.55, {
        grid: { color: c => (c.tick && c.tick.value === 40 ? GRID : 'rgba(0,0,0,0)'), tickColor: GRID, drawTicks: true, tickLength: 5 },
        afterBuildTicks: s => { s.ticks = atrTickVals.map(v => ({ value: v })); },
        ticks: { padding: 3, color: '#111', font: { size: 19 }, callback: v => String(v) }
      }),
      yTpt: yAxis(82, 0, 13600, {
        grid: { display: false },
        ticks: { display: false }
      }),
      yObv: yAxis(296, 594.5, 1132.7, {
        grid: { color: c => (c.tick && (c.tick.value === 700 || c.tick.value === 1000) ? GRID : 'rgba(0,0,0,0)'), tickColor: GRID, drawTicks: true, tickLength: 5 },
        afterBuildTicks: s => { s.ticks = obvTickVals.map(v => ({ value: v })); },
        ticks: { padding: 3, color: '#111', font: { size: 19 }, callback: v => v + 'K' }
      })
    }
  },
  plugins: [panelClip, overlay]
});
</script>
</body>
</html>
